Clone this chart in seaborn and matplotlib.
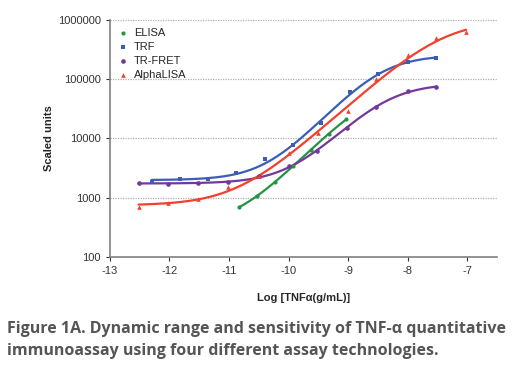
import matplotlib
matplotlib.use("Agg")
import matplotlib.pyplot as plt
import numpy as np
import pandas as pd
import seaborn as sns

# data (x = log concentration, y = scaled units)
elisa_x = [-10.83, -10.53, -10.23, -9.93, -9.63, -9.33, -9.03]
elisa_y = [700, 1050, 1850, 3500, 6300, 12000, 21000]

trf_x = [-12.3, -11.83, -11.35, -10.88, -10.4, -9.92, -9.45, -8.97, -8.5, -8.0, -7.52]
trf_y = [1850, 2100, 2100, 2600, 4500, 7800, 18000, 61000, 123000, 196000, 228000]

trfret_x = [-12.52, -12.02, -11.52, -11.02, -10.5, -10.0, -9.52, -9.02, -8.53, -8.0, -7.52]
trfret_y = [1750, 1700, 1750, 1850, 2300, 3500, 6100, 15200, 34000, 63000, 74000]

alpha_x = [-12.52, -12.02, -11.52, -11.02, -10.5, -10.0, -9.5, -9.0, -8.53, -8.0, -7.52, -7.02]
alpha_y = [710, 810, 950, 1520, 2350, 5800, 12300, 29500, 99000, 255000, 490000, 630000]

series = [
    ("ELISA", elisa_x, elisa_y, "#239442", "o", 9),
    ("TRF", trf_x, trf_y, "#3b5db5", "s", 8),
    ("TR-FRET", trfret_x, trfret_y, "#74389a", "o", 11),
    ("AlphaLISA", alpha_x, alpha_y, "#f2402e", "^", 11),
]


def fit_4pl(xs, ys):
    # 4-parameter logistic, grid over ec50/hill, weighted lsq for bottom/top
    xs = np.asarray(xs, float)
    ys = np.asarray(ys, float)
    best = None
    for ec in np.linspace(-11.5, -5.5, 121):
        for h in np.linspace(0.3, 2.5, 45):
            s = 1.0 / (1.0 + 10 ** ((ec - xs) * h))
            A = np.column_stack([1 - s, s]) / ys[:, None]
            coef, *_ = np.linalg.lstsq(A, np.ones_like(ys), rcond=None)
            if coef[0] <= 0 or coef[1] <= coef[0]:
                continue
            err = np.sum((A @ coef - 1) ** 2)
            if best is None or err < best[0]:
                best = (err, ec, h, coef)
    _, ec, h, (b, t) = best
    return lambda x: b + (t - b) / (1.0 + 10 ** ((ec - x) * h))


sns.set_style("white")
plt.rcParams["font.family"] = ["Liberation Sans", "DejaVu Sans"]

fig = plt.figure(figsize=(5.26, 3.68), dpi=100)
ax = fig.add_axes([0.209, 0.3016, 0.736, 0.6441])

for name, xs, ys, color, marker, size in series:
    curve = fit_4pl(xs, ys)
    xx = np.linspace(min(xs), max(xs), 200)
    sns.lineplot(x=xx, y=curve(xx), ax=ax, color=color, lw=1.6, legend=False)
    sns.scatterplot(x=xs, y=ys, ax=ax, color=color, marker=marker, s=size,
                    linewidth=0, label=name, zorder=3)

ax.set_yscale("log")
ax.set_xlim(-13, -6.5)
ax.set_ylim(100, 1000000)
ax.set_xticks([-13, -12, -11, -10, -9, -8, -7])
ax.set_xticklabels(["-13", "-12", "-11", "-10", "-9", "-8", "-7"])
ax.set_yticks([100, 1000, 10000, 100000, 1000000])
ax.set_yticklabels(["100", "1000", "10000", "100000", "1000000"])
ax.minorticks_off()
ax.tick_params(axis="both", labelsize=8, colors="#333333", length=3,
               direction="out", bottom=True, left=True)
for yy in [1000, 10000, 100000, 1000000]:
    ax.axhline(yy, color="#b0b0b0", lw=0.9, ls=(0, (1, 1)), zorder=0)

sns.despine(ax=ax)
for sp in ["left", "bottom"]:
    ax.spines[sp].set_color("#808080")
    ax.spines[sp].set_linewidth(1.2)

ax.set_xlabel("Log [TNFα(g/mL)]", fontsize=8, fontweight="bold", labelpad=12)
ax.set_ylabel("Scaled units", fontsize=8, fontweight="bold", labelpad=3)

ax.legend(loc="upper left", frameon=False, fontsize=8, handletextpad=0.6,
          handlelength=0.8, labelspacing=0.35, borderaxespad=0,
          bbox_to_anchor=(0.01, 0.985))

cap_font = ["Open Sans", "DejaVu Sans"]
fig.text(0.013, 0.095, "Figure 1A. Dynamic range and sensitivity of TNF-α quantitative",
         fontsize=11.5, fontweight="bold", color="#555555", family=cap_font)
fig.text(0.013, 0.035, "immunoassay using four different assay technologies.",
         fontsize=11.5, fontweight="bold", color="#555555", family=cap_font)

fig.savefig("out.png", dpi=100)
